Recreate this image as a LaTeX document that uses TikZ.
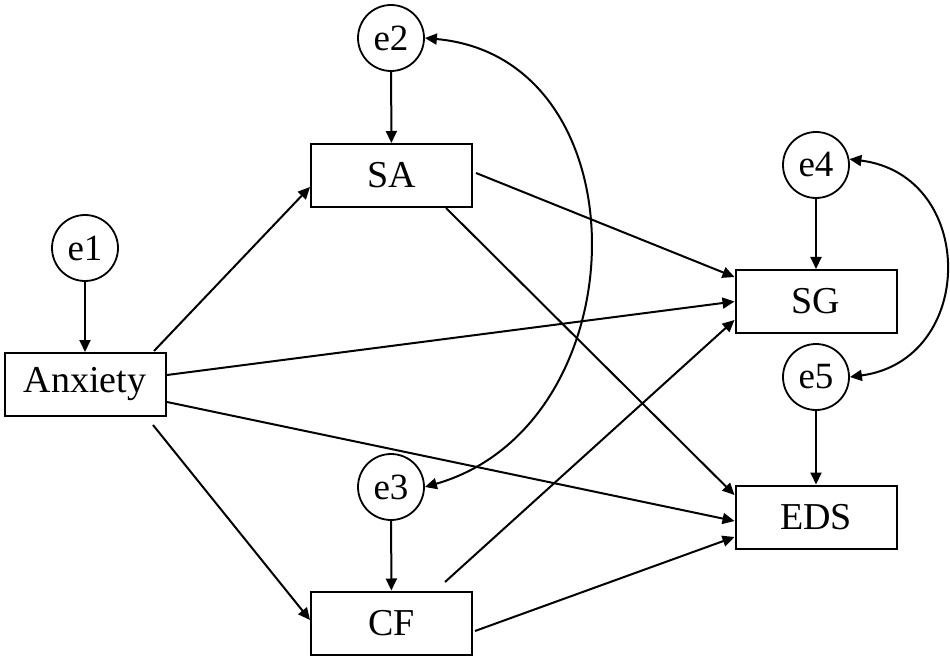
\documentclass[tikz,border=0pt]{standalone}
\usepackage{fontspec}
\setmainfont{Liberation Serif}
\usetikzlibrary{arrows.meta,calc}
\tikzset{
  box/.style={draw,line width=2pt,minimum width=161pt,minimum height=63pt,inner sep=0pt,font=\fontsize{38}{40}\selectfont},
  err/.style={draw,circle,line width=1.8pt,minimum size=66pt,inner sep=0pt,font=\fontsize{37}{40}\selectfont},
  arr/.style={line width=2pt,-{Triangle[length=12pt,width=11pt]}},
  dbl/.style={line width=2pt,{Triangle[length=12pt,width=11pt]}-{Triangle[length=12pt,width=11pt]}}
}
\begin{document}
\begin{tikzpicture}[x=1pt,y=-1pt]
\useasboundingbox (0,0) rectangle (950,660);
\node[err] (e2) at (391,38) {e2};
\node[box] (SA) at (391.5,175.5) {SA};
\node[err] (e1) at (85,248) {e1};
\node[box] (Anx) at (85,384.5) {Anxiety};
\node[err] (e4) at (816,165) {e4};
\node[box] (SG) at (816,301.5) {SG};
\node[err] (e5) at (816,377) {e5};
\node[box] (EDS) at (816,517) {EDS};
\node[err] (e3) at (391,487) {e3};
\node[box] (CF) at (391.5,623) {CF};
% error arrows
\draw[arr] (e1) -- (Anx);
\draw[arr] (e2) -- (SA);
\draw[arr] (e3) -- (CF);
\draw[arr] (e4) -- (SG);
\draw[arr] (e5) -- (EDS);
% paths
\draw[arr] ($(Anx.north east)+(-12.5,-1)$) -- ($(SA.west)+(0,11.5)$);
\draw[arr] ($(Anx.east)+(0.5,-9.5)$) -- (SG.west);
\draw[arr] ($(Anx.east)+(0.5,17.5)$) -- ($(EDS.west)+(0,4)$);
\draw[arr] ($(Anx.south east)+(-13.5,8)$) -- ($(CF.west)+(0,-3)$);
\draw[arr] ($(SA.east)+(3,-2.5)$) -- ($(SG.west)+(0,-24.5)$);
\draw[arr] ($(SA.south east)+(-27,0)$) -- ($(EDS.west)+(0,-22)$);
\draw[arr] ($(CF.north east)+(-28,-8.5)$) -- ($(SG.west)+(0,18.5)$);
\draw[arr] ($(CF.east)+(2,8)$) -- ($(EDS.west)+(0,20)$);
% covariances
\draw[dbl] (e2.east) .. controls ($(e2.east)+(222,20)$) and ($(e3.east)+(216,-62)$) .. (e3.east);
\draw[dbl] (e4.10) .. controls ($(e4.10)+(128,16)$) and ($(e5.east)+(127,-17)$) .. (e5.east);
\end{tikzpicture}
\end{document}
